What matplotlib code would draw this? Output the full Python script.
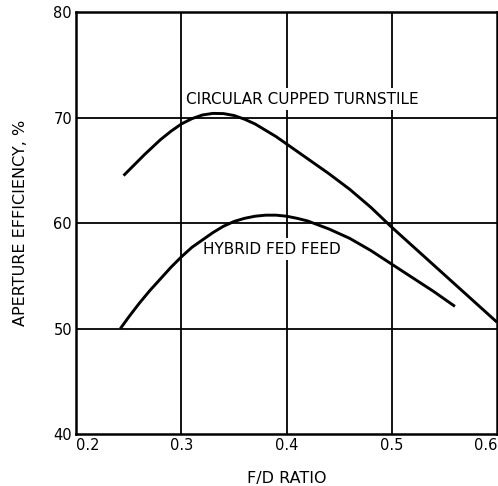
import matplotlib
matplotlib.use("Agg")
import matplotlib.pyplot as plt

circ_x = [0.245, 0.255, 0.265, 0.28, 0.29, 0.30, 0.31, 0.32, 0.33, 0.34, 0.35, 0.36, 0.37, 0.38, 0.39, 0.40,
          0.42, 0.44, 0.46, 0.48, 0.50, 0.52, 0.54, 0.56, 0.58, 0.60]
circ_y = [64.5, 65.5, 66.5, 67.9, 68.7, 69.4, 69.9, 70.25, 70.4, 70.38, 70.2, 69.85, 69.4, 68.8, 68.2, 67.5,
          66.1, 64.7, 63.2, 61.5, 59.6, 57.8, 56.0, 54.2, 52.4, 50.6]
hyb_x = [0.242, 0.25, 0.26, 0.27, 0.28, 0.29, 0.30, 0.31, 0.32, 0.33, 0.34, 0.35, 0.36, 0.37, 0.38, 0.39,
         0.40, 0.41, 0.42, 0.44, 0.46, 0.48, 0.50, 0.52, 0.54, 0.56]
hyb_y = [50.0, 51.1, 52.4, 53.6, 54.7, 55.8, 56.8, 57.7, 58.4, 59.1, 59.7, 60.15, 60.45, 60.65, 60.75, 60.75,
         60.65, 60.45, 60.2, 59.45, 58.55, 57.4, 56.1, 54.8, 53.5, 52.1]
x_ticks = [0.2, 0.3, 0.4, 0.5, 0.6]
x_tick_labels = ["0.2", "0.3", "0.4", "0.5", "0.6"]
y_ticks = [40, 50, 60, 70, 80]
y_tick_labels = ["40", "50", "60", "70", "80"]

fig = plt.figure(figsize=(4.98, 4.86), dpi=100)
ax = fig.add_axes([0.153, 0.107, 0.845, 0.868])
ax.set_xlim(0.2, 0.6)
ax.set_ylim(40, 80)

for xv in x_ticks[1:-1]:
    ax.axvline(xv, color="black", lw=1.3, zorder=1)
for yv in y_ticks[1:-1]:
    ax.axhline(yv, color="black", lw=1.3, zorder=1)

ax.plot(circ_x, circ_y, color="black", lw=2.1, zorder=3, solid_capstyle="butt")
ax.plot(hyb_x, hyb_y, color="black", lw=2.1, zorder=3, solid_capstyle="butt")

ax.text(0.415, 71.75, "CIRCULAR CUPPED TURNSTILE", ha="center", va="center",
        fontsize=11, zorder=2, bbox=dict(facecolor="white", edgecolor="none", pad=2.5))
ax.text(0.3856, 57.5, "HYBRID FED FEED", ha="center", va="center",
        fontsize=11, zorder=2, bbox=dict(facecolor="white", edgecolor="none", pad=2.5))

ax.set_xticks(x_ticks)
ax.set_xticklabels(x_tick_labels, fontsize=10.5)
labs = ax.get_xticklabels()
labs[0].set_ha("left")
labs[-1].set_ha("right")
ax.set_yticks(y_ticks)
ax.set_yticklabels(y_tick_labels, fontsize=10.5)
ax.tick_params(length=0, pad=3)

for s in ax.spines.values():
    s.set_linewidth(1.8)
    s.set_color("black")

ax.set_xlabel("F/D RATIO", fontsize=11.5, labelpad=13)
ax.set_ylabel("APERTURE EFFICIENCY, %", fontsize=11.5, labelpad=18)

fig.savefig("out.png", dpi=100)
